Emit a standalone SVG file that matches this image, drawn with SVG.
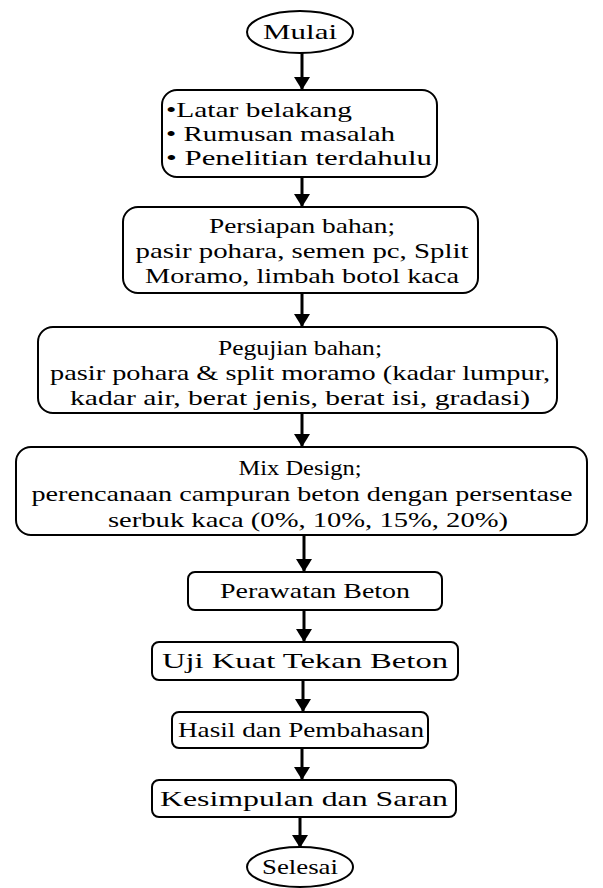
<svg xmlns="http://www.w3.org/2000/svg" width="603" height="888" viewBox="0 0 603 888">
<style>
.box{fill:#fff;stroke:#000;stroke-width:2}
text{font-family:"Liberation Serif","Times New Roman",serif;font-size:22px;fill:#000}
.c{text-anchor:middle}
.conn line{stroke:#000;stroke-width:3}
</style>
<defs>
<marker id="ah" markerUnits="userSpaceOnUse" markerWidth="14" markerHeight="16" refX="13" refY="8" orient="auto" viewBox="0 0 13 16">
<path d="M0,0 L13,8 L0,16 z" fill="#000"/>
</marker>
</defs>
<rect width="603" height="888" fill="#fff"/>
<g id="connectors" class="conn">
<line x1="302" y1="52" x2="302" y2="90" marker-end="url(#ah)"/>
<line x1="302" y1="177" x2="302" y2="207" marker-end="url(#ah)"/>
<line x1="302" y1="293" x2="302" y2="327" marker-end="url(#ah)"/>
<line x1="302" y1="413" x2="302" y2="447" marker-end="url(#ah)"/>
<line x1="304" y1="535" x2="304" y2="572" marker-end="url(#ah)"/>
<line x1="304" y1="610" x2="304" y2="642" marker-end="url(#ah)"/>
<line x1="303" y1="680" x2="303" y2="712" marker-end="url(#ah)"/>
<line x1="302" y1="748" x2="302" y2="780" marker-end="url(#ah)"/>
<line x1="300" y1="817" x2="300" y2="848" marker-end="url(#ah)"/>
</g>
<g id="mulai">
<ellipse class="box" cx="300" cy="32" rx="53" ry="21"/>
<text class="c" x="300" y="39" textLength="74" lengthAdjust="spacingAndGlyphs">Mulai</text>
</g>
<g id="latar">
<rect class="box" x="162" y="90" width="275" height="87" rx="15"/>
<text x="166" y="117" textLength="186" lengthAdjust="spacingAndGlyphs">•Latar belakang</text>
<text x="166" y="141" textLength="229" lengthAdjust="spacingAndGlyphs">• Rumusan masalah</text>
<text x="166" y="165" textLength="266" lengthAdjust="spacingAndGlyphs">• Penelitian terdahulu</text>
</g>
<g id="persiapan">
<rect class="box" x="123" y="207" width="355" height="86" rx="15"/>
<text class="c" x="302" y="233" textLength="186" lengthAdjust="spacingAndGlyphs">Persiapan bahan;</text>
<text class="c" x="302" y="258" textLength="333" lengthAdjust="spacingAndGlyphs">pasir pohara, semen pc, Split</text>
<text class="c" x="302" y="283" textLength="314" lengthAdjust="spacingAndGlyphs">Moramo, limbah botol kaca</text>
</g>
<g id="pengujian">
<rect class="box" x="38" y="327" width="519" height="86" rx="15"/>
<text class="c" x="300" y="355" textLength="164" lengthAdjust="spacingAndGlyphs">Pegujian bahan;</text>
<text class="c" x="300" y="380" textLength="500" lengthAdjust="spacingAndGlyphs">pasir pohara &amp; split moramo (kadar lumpur,</text>
<text class="c" x="300" y="405" textLength="460" lengthAdjust="spacingAndGlyphs">kadar air, berat jenis, berat isi,  gradasi)</text>
</g>
<g id="mixdesign">
<rect class="box" x="16" y="447" width="571" height="88" rx="15"/>
<text class="c" x="300" y="475" textLength="123" lengthAdjust="spacingAndGlyphs">Mix Design;</text>
<text class="c" x="302" y="501" textLength="541" lengthAdjust="spacingAndGlyphs">perencanaan campuran beton dengan persentase</text>
<text class="c" x="308" y="527" textLength="400" lengthAdjust="spacingAndGlyphs">serbuk kaca (0%, 10%, 15%, 20%)</text>
</g>
<g id="perawatan">
<rect class="box" x="188" y="572" width="254" height="38" rx="7"/>
<text class="c" x="315" y="598" textLength="190" lengthAdjust="spacingAndGlyphs">Perawatan Beton</text>
</g>
<g id="uji">
<rect class="box" x="152" y="642" width="306" height="38" rx="7"/>
<text class="c" x="305" y="668" textLength="286" lengthAdjust="spacingAndGlyphs">Uji Kuat Tekan Beton</text>
</g>
<g id="hasil">
<rect class="box" x="172" y="712" width="256" height="36" rx="7"/>
<text class="c" x="301" y="737" textLength="246" lengthAdjust="spacingAndGlyphs">Hasil dan Pembahasan</text>
</g>
<g id="kesimpulan">
<rect class="box" x="152" y="780" width="304" height="37" rx="7"/>
<text class="c" x="304" y="806" textLength="288" lengthAdjust="spacingAndGlyphs">Kesimpulan dan Saran</text>
</g>
<g id="selesai">
<ellipse class="box" cx="300" cy="867" rx="53" ry="20"/>
<text class="c" x="300" y="874" textLength="76" lengthAdjust="spacingAndGlyphs">Selesai</text>
</g>
</svg>
